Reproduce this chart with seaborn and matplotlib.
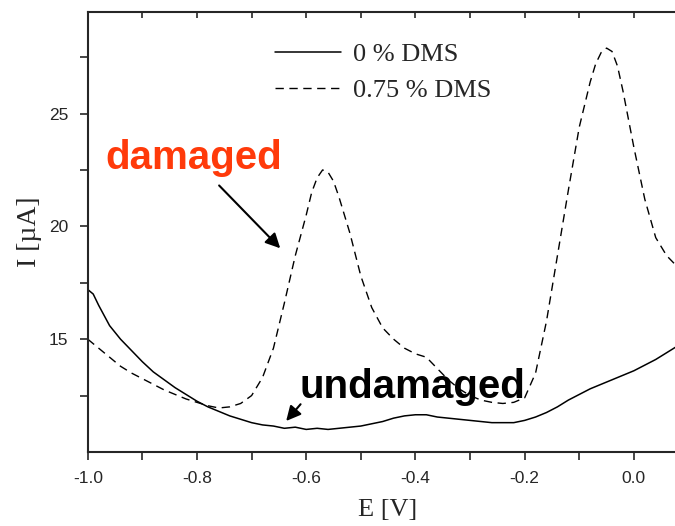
import numpy as np
import pandas as pd
import matplotlib
matplotlib.use('Agg')
import matplotlib.pyplot as plt
import seaborn as sns

# Potential (V) and current (uA)
e_undamaged = [-1.00, -0.99, -0.98, -0.96, -0.94, -0.92, -0.90, -0.88, -0.86, -0.84, -0.82,
               -0.80, -0.78, -0.76, -0.74, -0.72, -0.70, -0.68, -0.66, -0.64, -0.62,
               -0.60, -0.58, -0.56, -0.54, -0.52, -0.50, -0.48, -0.46, -0.44, -0.42,
               -0.40, -0.38, -0.36, -0.34, -0.32, -0.30, -0.28, -0.26, -0.24, -0.22,
               -0.20, -0.18, -0.16, -0.14, -0.12, -0.10, -0.08, -0.06, -0.04, -0.02,
               0.00, 0.02, 0.04, 0.06, 0.08, 0.10]
i_undamaged = [17.2, 17.0, 16.5, 15.6, 15.0, 14.5, 14.0, 13.55, 13.2, 12.85, 12.55,
               12.25, 12.0, 11.8, 11.6, 11.45, 11.3, 11.2, 11.15, 11.05, 11.1,
               11.0, 11.05, 11.0, 11.05, 11.1, 11.15, 11.25, 11.35, 11.5, 11.6,
               11.65, 11.65, 11.55, 11.5, 11.45, 11.4, 11.35, 11.3, 11.3, 11.3,
               11.4, 11.55, 11.75, 12.0, 12.3, 12.55, 12.8, 13.0, 13.2, 13.4,
               13.6, 13.85, 14.1, 14.4, 14.7, 15.0]

e_damaged = [-1.00, -0.98, -0.96, -0.94, -0.92, -0.90, -0.88, -0.86, -0.84, -0.82,
             -0.80, -0.78, -0.76, -0.74, -0.72, -0.70, -0.68, -0.66, -0.64, -0.62,
             -0.60, -0.59, -0.58, -0.57, -0.56, -0.55, -0.54, -0.52, -0.50, -0.48,
             -0.46, -0.44, -0.42, -0.40, -0.38, -0.36, -0.34, -0.32, -0.30, -0.28,
             -0.26, -0.24, -0.22, -0.20, -0.18, -0.16, -0.14, -0.12, -0.10, -0.08,
             -0.07, -0.06, -0.05, -0.04, -0.03, -0.02, 0.00, 0.02, 0.04, 0.06,
             0.08, 0.10]
i_damaged = [15.0, 14.6, 14.2, 13.8, 13.5, 13.25, 13.0, 12.75, 12.55, 12.35,
             12.2, 12.05, 11.95, 12.0, 12.15, 12.5, 13.3, 14.6, 16.6, 18.7,
             20.5, 21.5, 22.15, 22.5, 22.4, 22.0, 21.3, 19.7, 17.8, 16.4,
             15.5, 15.0, 14.6, 14.35, 14.2, 13.7, 13.2, 12.8, 12.5, 12.3,
             12.2, 12.15, 12.2, 12.4, 13.5, 15.8, 18.7, 21.6, 24.4, 26.4,
             27.2, 27.7, 27.9, 27.75, 27.1, 26.0, 23.5, 21.2, 19.5, 18.7,
             18.2, 17.9]

labels = ['0 % DMS', '0.75 % DMS']

df0 = pd.DataFrame({'E': e_undamaged, 'I': i_undamaged})
df1 = pd.DataFrame({'E': e_damaged, 'I': i_damaged})

sns.set_style('ticks')
plt.rcParams['font.family'] = ['Liberation Sans', 'DejaVu Sans']

fig = plt.figure(figsize=(6.75, 5.26), dpi=100)
ax = fig.add_axes([0.130, 0.1407, 0.890, 0.8365])

sns.lineplot(data=df0, x='E', y='I', ax=ax, color='black', lw=1.1, label=labels[0])
sns.lineplot(data=df1, x='E', y='I', ax=ax, color='black', lw=1.0,
             dashes=False, label=labels[1])
ax.lines[1].set_dashes((6, 4))

ax.set_xlim(-1.0, 0.1)
ax.set_ylim(10, 29.5)
ax.set_xticks([-1.0, -0.8, -0.6, -0.4, -0.2, 0.0])
ax.set_xticks(np.arange(-1.0, 0.101, 0.1), minor=True)
ax.set_yticks([15, 20, 25])
ax.set_yticks([12.5, 17.5, 22.5, 27.5], minor=True)
ax.set_xticklabels(['-1.0', '-0.8', '-0.6', '-0.4', '-0.2', '0.0'])

for s in ax.spines.values():
    s.set_linewidth(1.5)
    s.set_visible(True)

ax.tick_params(axis='both', which='both', direction='out', length=6, width=1.2,
               labelsize=12.5, top=False, right=False)
ax.tick_params(axis='both', which='major', pad=8)

# inward ticks along the top frame
top = ax.secondary_xaxis('top')
top.set_xticks(np.arange(-1.0, 0.101, 0.1))
top.tick_params(direction='in', length=4, width=1.2, labeltop=False)
top.spines['top'].set_visible(False)

ax.set_xlabel('E [V]', family='Liberation Serif', fontsize=19, labelpad=9)
ax.set_ylabel('I [µA]', family='Liberation Serif', fontsize=20, labelpad=5)

leg = ax.legend(loc='upper left', bbox_to_anchor=(0.272, 0.985), frameon=False,
                prop={'family': 'Liberation Serif', 'size': 19},
                handlelength=2.5, handletextpad=0.45, labelspacing=0.5)

ax.text(-0.967, 22.55, 'damaged', color='#ff3a0a', fontsize=29,
        fontweight='bold', ha='left', va='baseline')
ax.annotate('', xy=(-0.644, 18.94), xytext=(-0.763, 21.9),
            arrowprops=dict(arrowstyle='-|>', color='black', lw=1.5, mutation_scale=22))

ax.text(-0.612, 12.4, 'undamaged', color='black', fontsize=29,
        fontweight='bold', ha='left', va='baseline')
ax.annotate('', xy=(-0.640, 11.28), xytext=(-0.607, 12.21),
            arrowprops=dict(arrowstyle='-|>', color='black', lw=1.5, mutation_scale=22))

fig.savefig('out.png', dpi=100)
